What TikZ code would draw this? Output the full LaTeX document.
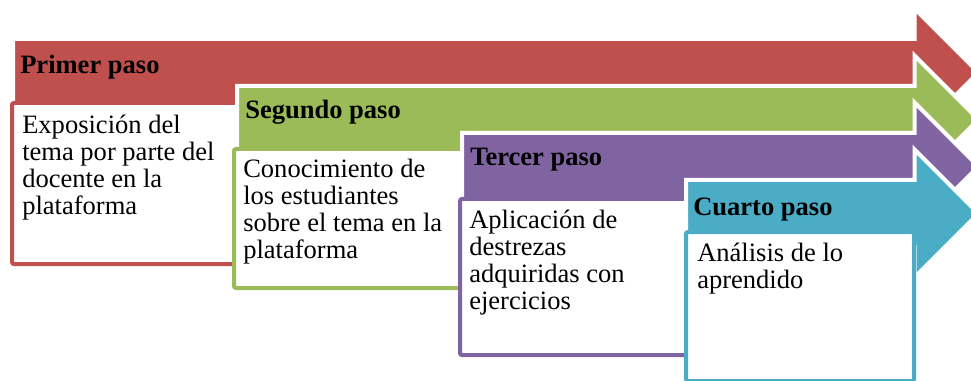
\documentclass[tikz,border=0pt]{standalone}
\usepackage{fontspec}
\setmainfont{Liberation Serif}
\definecolor{pasoRojo}{HTML}{C0504D}
\definecolor{pasoVerde}{HTML}{9BBB59}
\definecolor{pasoMorado}{HTML}{8064A2}
\definecolor{pasoCian}{HTML}{4BACC6}
\tikzset{flecha/.style={fill=#1, draw=white, line width=3pt, line join=miter}}
\tikzset{caja/.style={fill=white, draw=#1, line width=3pt, rounded corners=1.5pt}}
\tikzstyle{titulo} = [anchor=base west, inner sep=0pt, font=\fontsize{19.9pt}{20.25pt}\selectfont\bfseries]
\tikzstyle{texto} = [anchor=north west, inner sep=0pt, align=left, font=\fontsize{19.9pt}{20.25pt}\selectfont]

\begin{document}
\begin{tikzpicture}[x=0.75pt, y=-0.75pt]

\def \back {914.5} % back of the arrow heads
\def \tip {978.5}
\def \over {30.5}  % head above and below the shaft
\def \shaft {67}

\path[use as bounding box] (0,0) rectangle (971,381);
\clip (0,0) rectangle (971,381);

  % primer paso
  \path[flecha=pasoRojo] (13,39) -- (\back,39) -- (\back,{39-\over})
    -- (\tip,{39+\shaft/2}) -- (\back,{39+\shaft+\over}) -- (\back,{39+\shaft})
    -- (13,{39+\shaft}) -- cycle;
  \path[caja=pasoRojo] (12,103) rectangle (240,264);
  \node[titulo] (t1) at (20,74) {Primer paso};
  \node[texto] (c1) at (22,109) {\rule{0pt}{18pt}Exposición del\\tema por parte del\\docente en la\\plataforma};

  % segundo paso
  \path[flecha=pasoVerde] (237,86) -- (\back,86) -- (\back,{86-\over})
    -- (\tip,{86+\shaft/2}) -- (\back,{86+\shaft+\over}) -- (\back,{86+\shaft})
    -- (237,{86+\shaft}) -- cycle;
  \path[caja=pasoVerde] (234,149) rectangle (462,288);
  \node[titulo] (t2) at (245,119) {Segundo paso};
  \node[texto] (c2) at (243,153) {\rule{0pt}{18pt}Conocimiento de\\los estudiantes\\sobre el tema en la\\plataforma};

  % tercer paso
  \path[flecha=pasoMorado] (462,133) -- (\back,133) -- (\back,{133-\over})
    -- (\tip,{133+\shaft/2}) -- (\back,{133+\shaft+\over}) -- (\back,{133+\shaft})
    -- (462,{133+\shaft}) -- cycle;
  \path[caja=pasoMorado] (460,199) rectangle (688,355);
  \node[titulo] (t3) at (470,166) {Tercer paso};
  \node[texto] (c3) at (469,204) {\rule{0pt}{18pt}Aplicación de\\destrezas\\adquiridas con\\ejercicios};

  % cuarto paso
  \path[flecha=pasoCian] (686,180) -- (\back,180) -- (\back,{180-\over})
    -- (\tip,{180+\shaft/2}) -- (\back,{180+\shaft+\over}) -- (\back,{180+\shaft})
    -- (686,{180+\shaft}) -- cycle;
  \path[caja=pasoCian] (686,232) rectangle (914,381);
  \node[titulo] (t4) at (693,215) {Cuarto paso};
  \node[texto] (c4) at (697,237) {\rule{0pt}{18pt}Análisis de lo\\aprendido};

\end{tikzpicture}
\end{document}
